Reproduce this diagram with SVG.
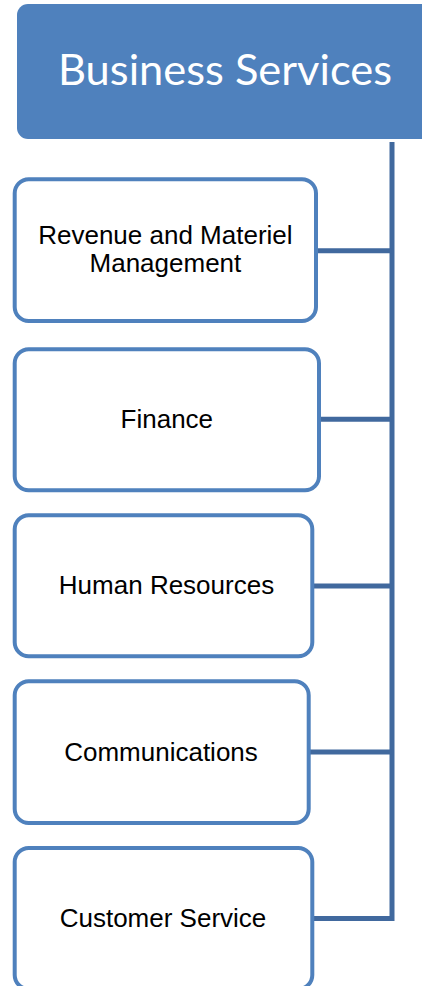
<svg xmlns="http://www.w3.org/2000/svg" width="422" height="986" viewBox="0 0 422 986">
  <style>
    .unit { fill: #FFFFFF; stroke: #4F81BD; stroke-width: 4; }
    .label { font-family: "Liberation Sans", Arial, sans-serif; font-size: 26px; fill: #000000; text-anchor: middle; }
    .title { font-family: Lato, "Open Sans", sans-serif; font-size: 43px; fill: #FFFFFF; text-anchor: middle; }
    .link { fill: none; stroke: #41699E; stroke-width: 5; stroke-linejoin: miter; }
  </style>

  <!-- Connectors: trunk on the right with branches to each unit -->
  <g id="connectors">
    <path class="link" d="M392,142 V918.5 H312"/>
    <line class="link" x1="316" y1="250.7" x2="392" y2="250.7"/>
    <line class="link" x1="319" y1="419.3" x2="392" y2="419.3"/>
    <line class="link" x1="312" y1="586" x2="392" y2="586"/>
    <line class="link" x1="308" y1="752" x2="392" y2="752"/>
  </g>

  <!-- Parent node -->
  <g id="business-services">
    <rect x="17" y="4" width="430" height="135" rx="11" fill="#4F81BD"/>
    <text class="title" x="225" y="85" textLength="334" lengthAdjust="spacingAndGlyphs">Business Services</text>
  </g>

  <g id="revenue-materiel">
    <rect class="unit" x="14.7" y="179.3" width="301.3" height="141.7" rx="14"/>
    <text class="label" x="165.4" y="244">Revenue and Materiel</text>
    <text class="label" x="165.4" y="272">Management</text>
  </g>

  <g id="finance">
    <rect class="unit" x="14.7" y="349.3" width="304.3" height="141" rx="14"/>
    <text class="label" x="166.8" y="428.3">Finance</text>
  </g>

  <g id="human-resources">
    <rect class="unit" x="14.7" y="515.3" width="297.6" height="141" rx="14"/>
    <text class="label" x="166.5" y="594">Human Resources</text>
  </g>

  <g id="communications">
    <rect class="unit" x="14.7" y="681.3" width="294" height="141.7" rx="14"/>
    <text class="label" x="161" y="760.7">Communications</text>
  </g>

  <g id="customer-service">
    <rect class="unit" x="14.7" y="848" width="297.6" height="141" rx="14"/>
    <text class="label" x="163" y="926.7">Customer Service</text>
  </g>
</svg>
